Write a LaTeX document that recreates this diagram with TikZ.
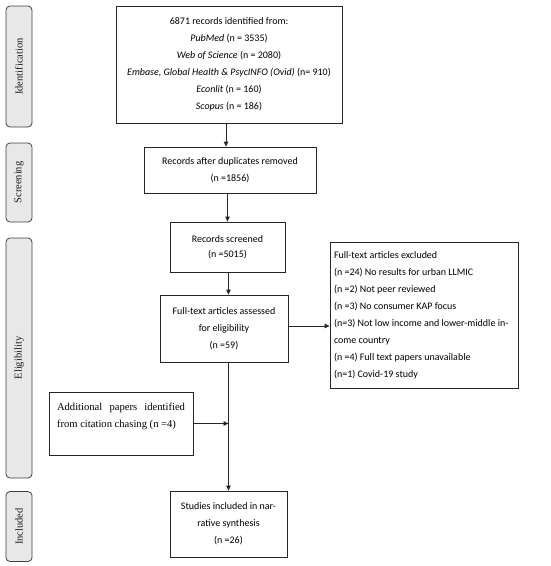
\documentclass[tikz,border=0pt]{standalone}
\usepackage{fontspec}
\setmainfont{Carlito}
\newfontfamily\sidefont{Liberation Serif}
\usetikzlibrary{arrows.meta}
\begin{document}
\begin{tikzpicture}[x=1pt,y=-1pt,
  box/.style={draw=black!85,line width=0.8pt,inner sep=0pt,align=center,
    font={\fontsize{10}{17}\selectfont}},
  side/.style={draw=black!75,line width=0.8pt,fill=black!9,rounded corners=4pt,
    minimum width=26pt,inner sep=0pt},
  sidetext/.style={rotate=90,font={\sidefont\fontsize{10.5}{12}\selectfont},text=black!90},
  arr/.style={draw=black!85,line width=0.8pt,-{Triangle[length=5pt,width=4.5pt]}}]
\useasboundingbox (0,0) rectangle (550,566);
% side labels
\node[side,minimum height=121pt] (sid) at (19,66.5) {};
\node[sidetext] (sidt) at (sid.center) {Identification};
\node[side,minimum height=79pt] (ssc) at (19,182.5) {};
\node[sidetext] (ssct) at (ssc.center) {Screening};
\node[side,minimum height=240pt] (sel) at (19,358) {};
\node[sidetext] (selt) at (sel.center) {Eligibility};
\node[side,minimum height=70pt] (sin) at (19,526.5) {};
\node[sidetext] (sint) at (sin.center) {Included};
% main boxes
\node[box,minimum width=226pt,minimum height=117pt] (b1) at (229,64.5)
  {6871 records identified from:\\ \textit{PubMed} (n = 3535)\\ \textit{Web of Science} (n = 2080)\\
   \textit{Embase, Global Health \& PsycINFO (Ovid)} (n= 910)\\ \textit{Econlit} (n = 160)\\ \textit{Scopus} (n = 186)};
\node[box,minimum width=172pt,minimum height=46pt] (b2) at (230,170)
  {Records after duplicates removed\\ (n =1856)};
\node[box,minimum width=115pt,minimum height=50pt] (b3) at (227.5,247)
  {Records screened\\[-2pt] (n =5015)};
\node[box,minimum width=128pt,minimum height=67pt] (b4) at (224,328.5)
  {Full-text articles assessed\\ for eligibility\\ (n =59)};
\node[box,minimum width=188pt,minimum height=146pt,align=left] (ex) at (424,315)
  {\parbox{176pt}{\fontsize{10}{17}\selectfont Full-text articles excluded\\ (n =24) No results for urban LLMIC\\ (n =2) Not peer reviewed\\
   (n =3) No consumer KAP focus\\ (n=3) Not low income and lower-middle in-\\ come country\\
   (n =4) Full text papers unavailable\\ (n=1) Covid-19 study}\hspace*{4pt}};
\node[box,minimum width=144pt,minimum height=63pt,align=left,
  font={\sidefont\fontsize{10.6}{17}\selectfont}] (add) at (121,423.5)
  {\makebox[128pt][s]{Additional papers identified}\\ from citation chasing (n =4)\\ \mbox{}};
\node[box,minimum width=117pt,minimum height=66pt] (fin) at (228.5,524)
  {Studies included in nar-\\ rative synthesis\\ (n =26)};
% connectors
\draw[arr] ([xshift=-3pt]b1.south) -- ([xshift=-3pt]b1.south |- b2.north);
\draw[arr] (b2.south -| b3.north) -- (b3.north);
\draw[arr] (b3.south -| fin.north) -- (b4.north -| fin.north);
\draw[arr] (b4.east |- 0,326) -- (ex.west |- 0,326);
\draw[arr] (b4.south -| fin.north) -- (fin.north);
\draw[arr] (add.east) -- (add.east -| fin.north);
\end{tikzpicture}
\end{document}
